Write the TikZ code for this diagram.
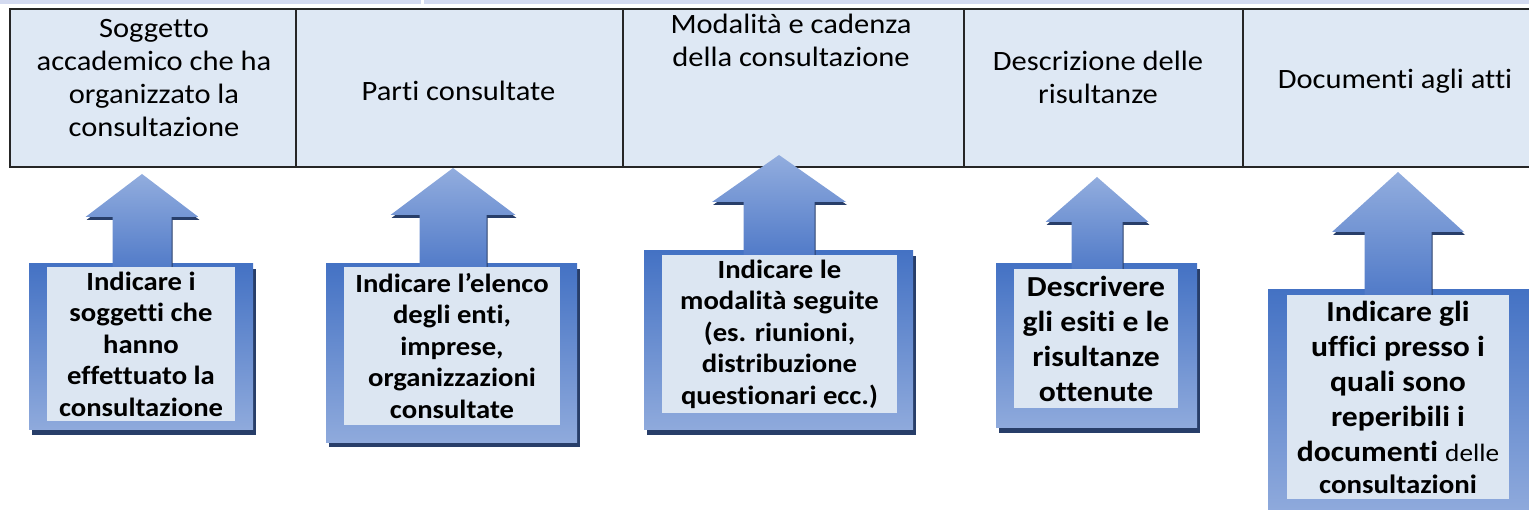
\documentclass[tikz,border=0pt]{standalone}
\usepackage{fontspec}
\setmainfont{Carlito}[FakeStretch=1.09,Ligatures=CommonOff]
\usetikzlibrary{calc,shadows}

\definecolor{azzurrino}{RGB}{222,232,244}
\definecolor{interno}{RGB}{220,230,242}
\definecolor{bluscuro}{RGB}{68,114,196}
\definecolor{bluchiaro}{RGB}{143,170,220}
\definecolor{frecciachiara}{RGB}{146,173,222}
\definecolor{frecciascura}{RGB}{80,122,200}
\definecolor{ombrablu}{RGB}{40,62,105}
\definecolor{banda}{RGB}{211,218,240}

\tikzset{
  cella/.style={draw=black!85, line width=1.5pt, fill=azzurrino, minimum height=158,
    inner sep=0pt, outer sep=0pt},
  intesta/.style={align=center, inner sep=0pt, font=\fontsize{28}{33}\selectfont},
  cornice/.style={top color=bluscuro, bottom color=bluchiaro, inner sep=0pt, outer sep=0pt,
    drop shadow={shadow xshift=3pt, shadow yshift=-5pt, fill=ombrablu, opacity=1}},
  riquadro/.style={fill=interno, align=center, inner sep=0pt, outer sep=0pt,
    font=\bfseries\fontsize{26.3}{31.5}\selectfont},
  grande/.style={font=\bfseries\fontsize{29}{35}\selectfont},
  freccia/.style={top color=frecciachiara, bottom color=frecciascura,
    drop shadow={shadow xshift=1pt, shadow yshift=-3pt, fill=ombrablu, opacity=1}},
}

% freccia verso l'alto: cornice, punta, mezzo fusto, mezza punta, altezza punta
\newcommand{\frecciasu}[5]{%
  \shade[freccia] let \p1=(#1.north), \p2=(#2) in
    (\x2-#3pt,\y1-6pt) -- (\x2-#3pt,\y2-#5pt) -- (\x2-#4pt,\y2-#5pt) -- (\x2,\y2)
    -- (\x2+#4pt,\y2-#5pt) -- (\x2+#3pt,\y2-#5pt) -- (\x2+#3pt,\y1-6pt) -- cycle;
}

\begin{document}
\begin{tikzpicture}[x=1pt,y=-1pt]
  \useasboundingbox (0,0) rectangle (1529,510);
  \clip (0,0) rectangle (1529,510);
  \fill[banda] (0,0) rectangle (421,4);
  \fill[banda] (424,0) rectangle (1529,4);

  % tabella
  \node[cella, minimum width=286] (c1) at (153,88) {};
  \node[cella, minimum width=327] (c2) at (459.5,88) {};
  \node[cella, minimum width=341] (c3) at (793.5,88) {};
  \node[cella, minimum width=279] (c4) at (1103.5,88) {};
  \node[cella, minimum width=297] (c5) at (1391.5,88) {};
  \node[intesta] (t1) at (154,78) {Soggetto\\accademico che ha\\organizzato la\\consultazione};
  \node[intesta] (t2) at (458.5,91) {Parti consultate};
  \node[intesta] (t3) at (791,40) {Modalità e cadenza\\della consultazione};
  \node[intesta] (t4) at (1098,77) {Descrizione delle\\risultanze};
  \node[intesta] (t5) at (1395,81) {Documenti agli atti};

  % riquadri
  \node[cornice, minimum width=224, minimum height=166] (f1) at (141,347) {};
  \node[cornice, minimum width=251, minimum height=178] (f2) at (451.5,353) {};
  \node[cornice, minimum width=269, minimum height=179] (f3) at (778.5,340.5) {};
  \node[cornice, minimum width=201, minimum height=164] (f4) at (1096.5,346) {};
  \node[cornice, minimum width=261, minimum height=222] (f5) at (1398.5,401) {};

  \coordinate (p1) at (142,174);
  \coordinate (p2) at (453,168);
  \coordinate (p3) at (779,155);
  \coordinate (p4) at (1097,177);
  \coordinate (p5) at (1398,172);
  \frecciasu{f1}{p1}{29.5}{56.5}{43}
  \frecciasu{f2}{p2}{33.5}{62.5}{47}
  \frecciasu{f3}{p3}{35.5}{67}{47}
  \frecciasu{f4}{p4}{25.5}{51.5}{45}
  \frecciasu{f5}{p5}{33.5}{66}{60}

  \node[riquadro, minimum width=188, minimum height=154] (i1) at (141,344)
    {Indicare i\\soggetti che\\hanno\\effettuato la\\consultazione};
  \node[riquadro, minimum width=216, minimum height=158] (i2) at (452,346)
    {Indicare l’elenco\\degli enti,\\imprese,\\organizzazioni\\consultate};
  \node[riquadro, minimum width=235, minimum height=158] (i3) at (779.5,334)
    {Indicare le\\modalità seguite\\(es. riunioni,\\distribuzione\\questionari ecc.)};
  \node[riquadro, grande, minimum width=164, minimum height=139] (i4) at (1096,338.5)
    {Descrivere\\gli esiti e le\\risultanze\\ottenute};
  \node[riquadro, grande, minimum width=222, minimum height=204] (i5) at (1398,397)
    {Indicare gli\\uffici presso i\\quali sono\\reperibili i\\documenti {\mdseries\fontsize{25}{35}\selectfont delle}\\[-3pt]{\fontsize{26.5}{32}\selectfont consultazioni}};
\end{tikzpicture}
\end{document}
